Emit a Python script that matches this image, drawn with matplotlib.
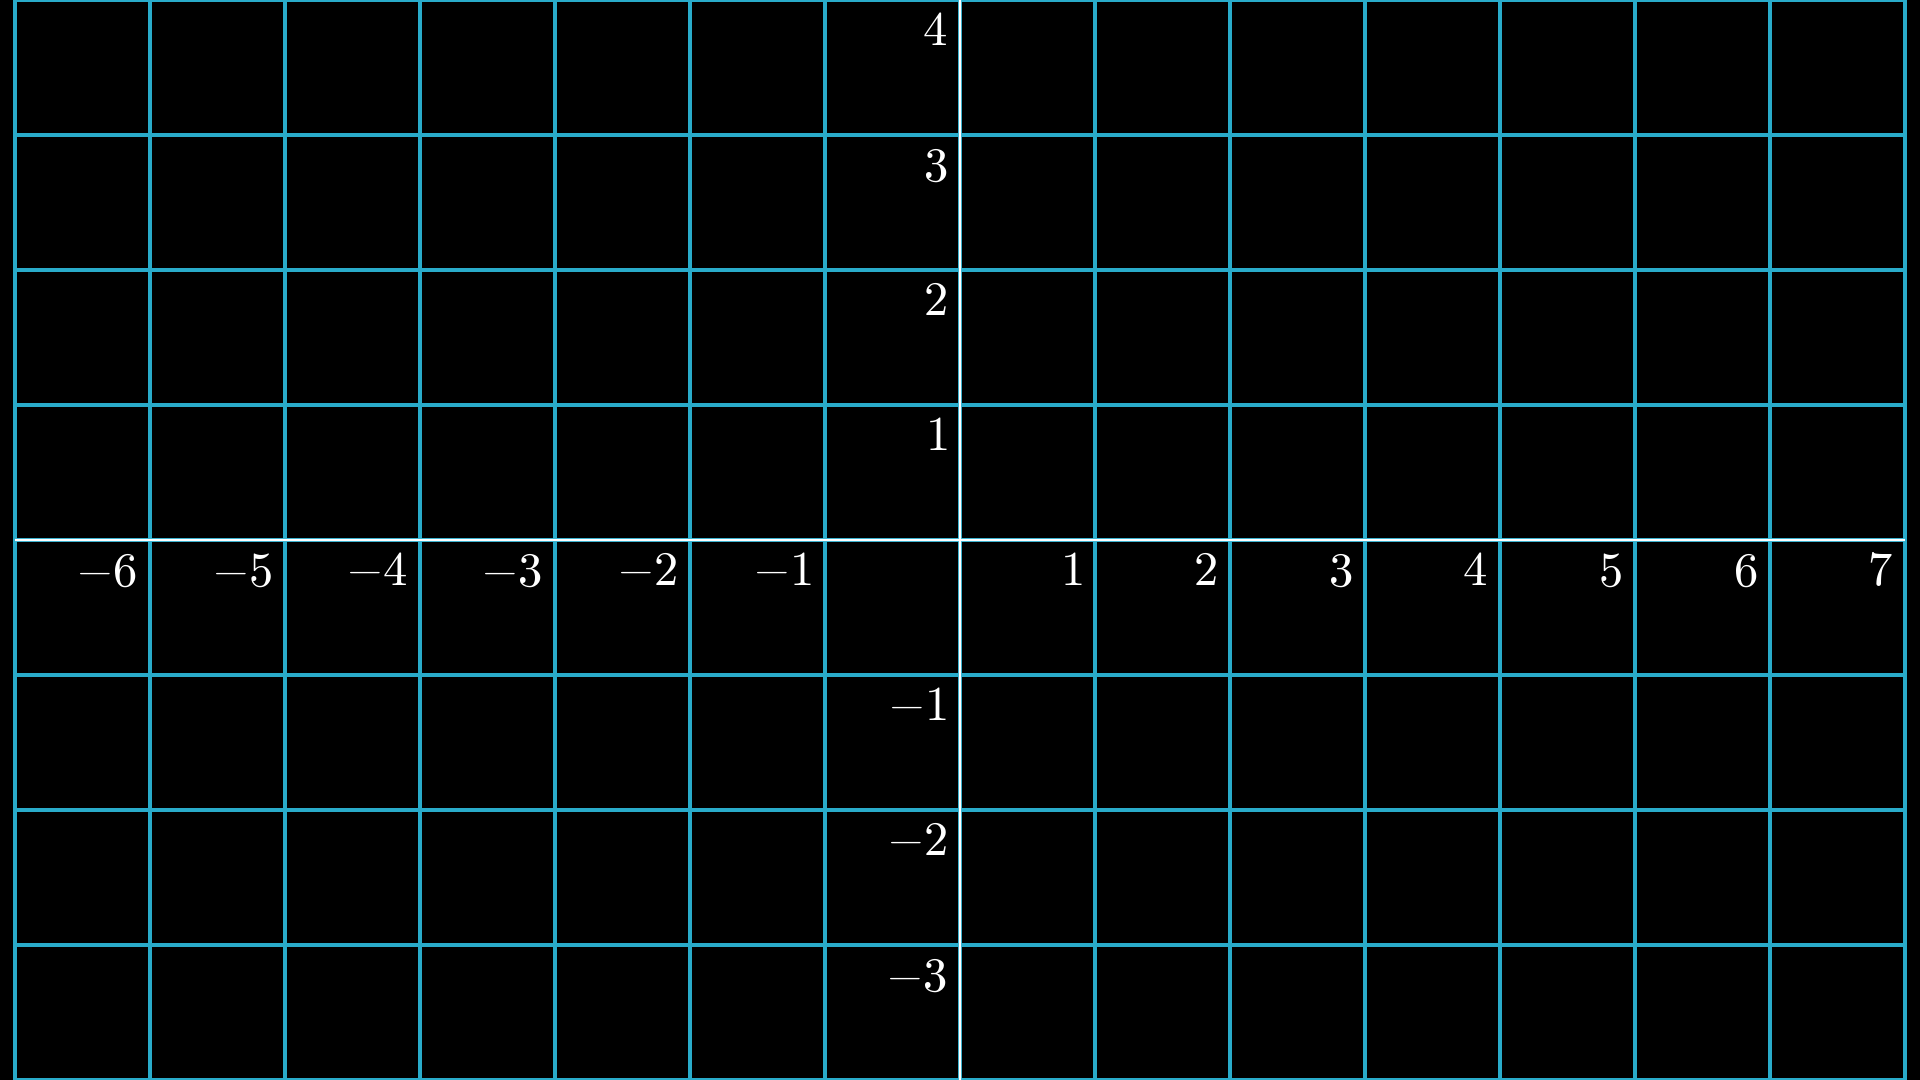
import matplotlib
matplotlib.use("Agg")
import matplotlib.pyplot as plt
import numpy as np

plt.rcParams['mathtext.fontset'] = 'cm'

x_ticks = [-6, -5, -4, -3, -2, -1, 1, 2, 3, 4, 5, 6, 7]
y_ticks = [4, 3, 2, 1, -1, -2, -3]
x_grid = list(range(-7, 8))
y_grid = list(range(-4, 5))
x_min, x_max = -7, 7
y_min, y_max = -4, 4

grid_color = '#29ABCA'
axis_color = '#FFFFFF'
unit_px = 135

fig = plt.figure(figsize=(19.2, 10.8), dpi=100, facecolor='black')
ax = fig.add_axes([0, 0, 1, 1])
ax.set_facecolor('black')
half_w = 960 / unit_px
ax.set_xlim(-half_w, half_w)
ax.set_ylim(-540 / unit_px, 540 / unit_px)
ax.axis('off')

lw_grid = 4 * 72 / 100
lw_axis = 2.2 * 72 / 100
ax.vlines(x_grid, y_min, y_max, colors=grid_color, linewidth=lw_grid, zorder=1)
ax.hlines(y_grid, x_min, x_max, colors=grid_color, linewidth=lw_grid, zorder=1)
ax.hlines([0], x_min, x_max, colors=axis_color, linewidth=lw_axis, zorder=2)
ax.vlines([0], y_min, y_max, colors=axis_color, linewidth=lw_axis, zorder=2)

fs = 35
dx, dy = 0.095, 0.055
for v in x_ticks:
    ax.text(v - dx, -dy, r'$%d$' % v if v >= 0 else r'$-%d$' % (-v),
            color='white', fontsize=fs, ha='right', va='top', zorder=3)
for v in y_ticks:
    ax.text(-dx, v - dy, r'$%d$' % v if v >= 0 else r'$-%d$' % (-v),
            color='white', fontsize=fs, ha='right', va='top', zorder=3)

fig.savefig('out.png', dpi=100, facecolor='black')
